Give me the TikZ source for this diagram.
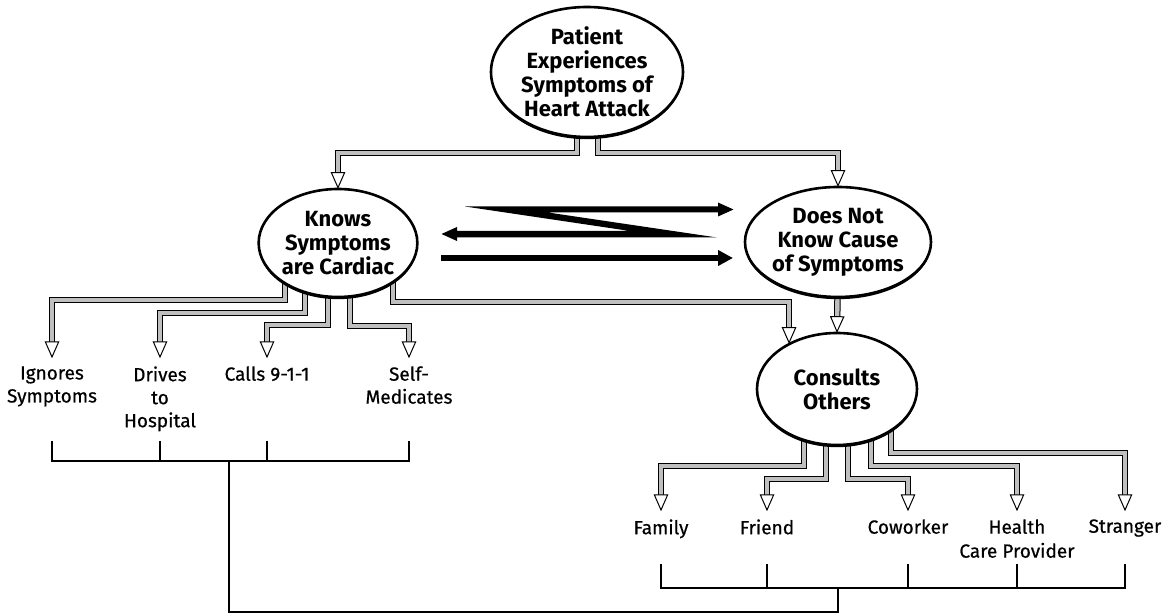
\documentclass[tikz,border=0pt]{standalone}
\usepackage{fontspec}
\setmainfont{Fira Sans}
\newfontfamily\leaffont{Fira Sans}[FakeBold=0.6]
\usetikzlibrary{shapes.geometric,shadows,decorations.markings,arrows.meta,backgrounds,calc}

\begin{document}
\begin{tikzpicture}[
  x=0.5pt, y=-0.5pt,
  oval/.style={ellipse, draw=black, line width=1.3pt, fill=white, inner sep=0pt,
               align=center, font=\fontsize{11}{12}\selectfont\bfseries,
               drop shadow={shadow xshift=0pt, shadow yshift=-1.1pt, opacity=1, fill=black}},
  leaf/.style={anchor=north, align=center, inner xsep=0pt, inner ysep=4.5pt,
               font=\leaffont\fontsize{9.5}{11.5}\selectfont},
  pipe/.style={draw=black, line width=3.2pt, line join=miter, shorten >=7pt,
               postaction={draw=black!25, line width=2.2pt},
               postaction={decorate, decoration={markings, mark=at position 1 with
                 {\filldraw[fill=white, draw=black, line width=0.5pt, shorten >=0pt, line join=miter]
                   (0pt,0pt) -- (-7.5pt,3.3pt) -- (-7.5pt,-3.3pt) -- cycle;}}}},
  brk/.style={line width=1pt, line join=miter},
  bolt/.style={line width=2.6pt, -{Triangle[length=7.5pt, width=7.5pt]}}
]
\useasboundingbox (0,0) rectangle (1164,613);

% ================= the four decision ovals =================
\node[oval, minimum width=96pt, minimum height=65pt] (pat) at (587,72)
  {Patient\\Experiences\\Symptoms of\\Heart Attack};
\node[oval, minimum width=78pt, minimum height=54pt] (knows) at (338,243)
  {Knows\\Symptoms\\are Cardiac};
\node[oval, minimum width=81pt, minimum height=55pt] (dnk) at (838,242)
  {Does Not\\Know Cause\\of Symptoms};
\node[oval, minimum width=80pt, minimum height=56pt] (cons) at (837,389)
  {Consults\\Others};

% ================= what the patient does =================
\node[leaf] (ign) at (52,357) {Ignores\\Symptoms};
\node[leaf] (drv) at (160,357) {Drives\\to\\Hospital};
\node[leaf] (call) at (267,357) {Calls 9-1-1};
\node[leaf] (self) at (409,357) {Self-\\Medicates};

\node[leaf] (fam) at (661,510) {Family};
\node[leaf] (fri) at (767,510) {Friend};
\node[leaf] (cow) at (908,510) {Coworker};
\node[leaf, font=\leaffont\fontsize{9.5}{12}\selectfont] (hcp) at (1017,510) {Health\\Care Provider};
\node[leaf] (str) at (1125,510) {Stranger};

% ================= hollow pipes (behind the ovals) =================
\begin{scope}[on background layer]
\draw[pipe] ($(pat.center)+(-10,0)$) -- ++(0,81) -| (knows.north);
\draw[pipe] ($(pat.center)+(11,0)$) -- ++(0,81) -| (dnk.north);

\draw[pipe] ($(knows.center)+(-53,27)$) -- ++(0,30) -| (ign.north);
\draw[pipe] ($(knows.center)+(-33,27)$) -- ++(0,43) -| (drv.north);
\draw[pipe] ($(knows.center)+(-10,27)$) -- ++(0,55) -| (call.north);
\draw[pipe] ($(knows.center)+(12,27)$) -- ++(0,56) -| (self.north);
\draw[pipe] ($(knows.center)+(55,22)$) -- ++(0,37) -| (cons.136);

\draw[pipe] ($(dnk.center)+(0,20)$) -- (cons.north);

\draw[pipe] ($(cons.center)+(-33,31)$) -- ++(0,46) -| (fam.north);
\draw[pipe] ($(cons.center)+(-11,31)$) -- ++(0,59) -| (fri.north);
\draw[pipe] ($(cons.center)+(11,31)$) -- ++(0,59) -| (cow.north);
\draw[pipe] ($(cons.center)+(34,31)$) -- ++(0,46) -| (hcp.north);
\draw[pipe] ($(cons.center)+(54,26)$) -- ++(0,38) -| (str.north);
\end{scope}

% ================= back-and-forth between the two states =================
\coordinate (zb1) at (441,258);
\coordinate (zb2) at (733,258);
\fill (465,206.5) -- (718,206.5) -- (718,202.5) -- (733.5,209.5) -- (718,216.5)
  -- (718,212.5) -- (548,212.5) -- (717,237.5) -- (457,237.5) -- (457,241)
  -- (441.5,234) -- (457,227) -- (457,231) -- (630,231) -- cycle;
\draw[bolt] (zb1) -- (zb2);

% ================= brackets joining the outcomes =================
\coordinate (ltop) at (0,441);
\coordinate (lbar) at (0,461);
\coordinate (rtop) at (0,564);
\coordinate (rbar) at (0,588);
\coordinate (base) at (0,612);
\coordinate (ljoin) at (229,461);
\coordinate (rjoin) at (838,588);

\draw[brk] (ign |- ltop) -- (ign |- lbar) -- (self |- lbar) -- (self |- ltop);
\draw[brk] (drv |- ltop) -- (drv |- lbar);
\draw[brk] (call |- ltop) -- (call |- lbar);

\draw[brk] (fam |- rtop) -- (fam |- rbar) -- (str |- rbar) -- (str |- rtop);
\draw[brk] (fri |- rtop) -- (fri |- rbar);
\draw[brk] (cow |- rtop) -- (cow |- rbar);
\draw[brk] (hcp |- rtop) -- (hcp |- rbar);

\draw[brk] (ljoin) -- (ljoin |- base) -| (rjoin);

\end{tikzpicture}
\end{document}
